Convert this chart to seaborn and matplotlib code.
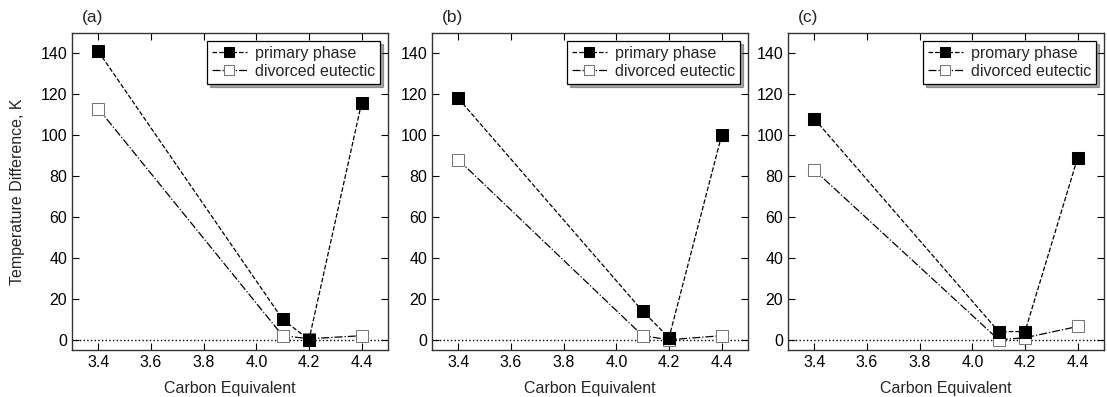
import numpy as np
import pandas as pd
import seaborn as sns
import matplotlib.pyplot as plt

carbon_eq = [3.4, 4.1, 4.2, 4.4]
panels = ['(a)', '(b)', '(c)']
primary_labels = ['primary phase', 'primary phase', 'promary phase']
primary = [
    [141, 10, 0, 116],
    [118, 14, 1, 100],
    [108, 4, 4, 89],
]
divorced = [
    [113, 2, 0.5, 2],
    [88, 2, 0, 2],
    [83, 0, 1, 6.5],
]

sns.set_style('ticks')
plt.rcParams['font.family'] = ['Liberation Sans', 'DejaVu Sans']
plt.rcParams['font.size'] = 11.5

fig = plt.figure(figsize=(11.07, 3.97), dpi=100)
lefts = [72, 432, 788]

for i, lab in enumerate(panels):
    ax = fig.add_axes([lefts[i] / 1107, 1 - 350 / 397, 316 / 1107, 317 / 397])
    df = pd.DataFrame({'ce': carbon_eq, 'p': primary[i], 'd': divorced[i]})
    ax.axhline(0, color='black', linestyle=':', linewidth=1.0, zorder=1)
    sns.lineplot(data=df, x='ce', y='p', ax=ax, color='black', linestyle='--',
                 linewidth=0.9, marker='s', markersize=8.5, markerfacecolor='black',
                 markeredgecolor='black', label=primary_labels[i], zorder=4)
    sns.lineplot(data=df, x='ce', y='d', ax=ax, color='black', linestyle='-.',
                 linewidth=0.9, marker='s', markersize=8.5, markerfacecolor='white',
                 markeredgecolor='#777777', label='divorced eutectic', zorder=3)
    ax.set_xlim(3.3, 4.5)
    ax.set_ylim(-5, 150)
    ax.set_xticks(np.arange(3.4, 4.41, 0.2))
    ax.set_xticklabels(['3.4', '3.6', '3.8', '4.0', '4.2', '4.4'])
    ax.set_yticks(range(0, 141, 20))
    ax.tick_params(direction='in', top=True, right=True, length=5, width=0.8,
                   labelsize=11.5, colors='black')
    for s in ax.spines.values():
        s.set_linewidth(1.0)
        s.set_color('#333333')
    ax.set_xlabel('Carbon Equivalent', fontsize=11.5, labelpad=8)
    if i == 0:
        ax.set_ylabel('Temperature Difference, K', fontsize=11.5, labelpad=11)
    else:
        ax.set_ylabel('')
    ax.text(0.03, 1.025, lab, transform=ax.transAxes, fontsize=12.5, ha='left', va='bottom')
    leg = ax.legend(loc='upper right', frameon=True, fancybox=False, shadow=True,
                    fontsize=11.5, handlelength=2.2, borderpad=0.3, labelspacing=0.2,
                    handletextpad=0.5, borderaxespad=0.5, markerscale=0.85)
    leg.get_frame().set_edgecolor('black')
    leg.get_frame().set_linewidth(0.9)

fig.savefig('out.png', dpi=100)
